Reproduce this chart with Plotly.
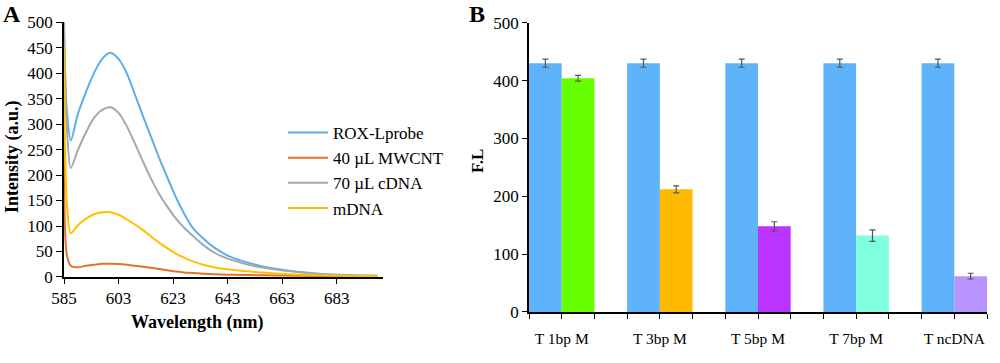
import plotly.graph_objects as go

# ---------- Panel A data ----------
wavelength = [583, 584, 585.5, 588, 591, 594, 597, 600, 603, 606, 609, 612, 615, 618, 621,
              624, 627, 630, 634, 638, 643, 648, 654, 660, 667, 675, 683, 691, 698]
rox_lprobe = [480, 330, 268, 318, 362, 400, 428, 440, 428, 400, 358, 315, 274, 232, 194,
              157, 125, 98, 76, 58, 42, 32, 23, 16.5, 11, 7, 4.5, 3, 2.5]
mwcnt_40 = [280, 45, 22, 19, 22, 24, 26, 26, 25.5, 24, 22, 20, 18, 15.5, 13,
            10.5, 9, 8, 6.5, 5.5, 4.5, 4, 3.5, 3, 2.5, 2, 2, 1.5, 1.5]
cdna_70 = [520, 300, 214, 248, 283, 312, 328, 333, 322, 296, 262, 226, 192, 162, 137,
           115, 97, 82, 63, 48, 36, 28, 20, 15, 10.5, 6.5, 4, 3, 2.5]
mdna = [450, 150, 86, 101, 114, 123, 127, 127, 122, 113, 103, 92, 79, 67, 56,
        46, 38, 31, 24, 19, 15, 12, 9.5, 7, 5, 3.5, 2.5, 2, 2]
series_names = ["ROX-Lprobe", "40 µL MWCNT", "70 µL cDNA", "mDNA"]
series_colors = ["#5DAEEA", "#E8702A", "#A5A9A9", "#FFC000"]
a_tickvals = [583, 603, 623, 643, 663, 683]
a_ticktext = ["585", "603", "623", "643", "663", "683"]

# ---------- Panel B data ----------
categories = ["T 1bp M", "T 3bp M", "T 5bp M", "T 7bp M", "T ncDNA"]
probe_vals = [430, 430, 430, 430, 430]
probe_err = [7, 7, 7, 7, 7]
target_vals = [404, 212, 148, 132, 62]
target_err = [5, 6, 8, 10, 5]
target_colors = ["#66FF00", "#FFB900", "#BB33FF", "#7FFFE0", "#B894FF"]
probe_color = "#5FB3FA"

FONT = "Liberation Serif"

fig = go.Figure()

for name, vals, col in zip(series_names, [rox_lprobe, mwcnt_40, cdna_70, mdna], series_colors):
    fig.add_trace(go.Scatter(x=wavelength, y=vals, mode="lines", name=name,
                             line=dict(color=col, width=2, shape="spline", smoothing=0.8),
                             xaxis="x", yaxis="y"))

xpos = list(range(len(categories)))
fig.add_trace(go.Bar(x=xpos, y=probe_vals, marker=dict(color=probe_color, line=dict(width=0)),
                     error_y=dict(type="data", array=probe_err, color="#555555", thickness=1.2, width=3),
                     showlegend=False, xaxis="x2", yaxis="y2"))
fig.add_trace(go.Bar(x=xpos, y=target_vals, marker=dict(color=target_colors, line=dict(width=0)),
                     error_y=dict(type="data", array=target_err, color="#555555", thickness=1.2, width=3),
                     showlegend=False, xaxis="x2", yaxis="y2"))

# tick positions for panel B: every bar width (1/3 category)
b_tickvals = []
b_ticktext = []
for i, c in enumerate(categories):
    for k, off in enumerate([-1/3, 0, 1/3]):
        b_tickvals.append(i + off)
        b_ticktext.append(c if k == 1 else "")

axis_common = dict(showgrid=False, zeroline=False, showline=True, linecolor="black", linewidth=1.5,
                   ticks="outside", tickcolor="black", tickwidth=1.2, automargin=False,
                   tickfont=dict(family=FONT, size=17, color="black"))

fig.update_layout(
    width=1000, height=363,
    margin=dict(l=0, r=0, t=0, b=0),
    paper_bgcolor="white", plot_bgcolor="white",
    barmode="group", bargap=1/3, bargroupgap=0,
    font=dict(family=FONT, size=17, color="black"),
    xaxis=dict(domain=[0.064, 0.383], range=[583, 700], tickvals=a_tickvals, ticktext=a_ticktext,
               ticklen=5, anchor="y", **axis_common),
    yaxis=dict(domain=[0.237, 0.939], range=[0, 500], dtick=50, ticklen=6, anchor="x", **axis_common),
    xaxis2=dict(domain=[0.529, 0.987], range=[-1/3, len(categories) - 1 + 1/3],
                tickvals=b_tickvals, ticktext=b_ticktext, ticklen=5, anchor="y2",
                ticklabelstandoff=7, **axis_common),
    yaxis2=dict(domain=[0.1405, 0.9375], range=[0, 500], dtick=100, ticklen=5, anchor="x2", **axis_common),
    legend=dict(x=0.283, y=0.683, xanchor="left", yanchor="top", bgcolor="rgba(0,0,0,0)",
                font=dict(family=FONT, size=17), tracegroupgap=0, itemwidth=40),
    showlegend=True,
)
fig.update_xaxes(tickfont=dict(size=15.5), selector=dict(anchor="y2"))

anns = [
    dict(text="<b>A</b>", x=12, y=14, size=24, angle=0),
    dict(text="<b>B</b>", x=477, y=14, size=24, angle=0),
    dict(text="<b>Wavelength (nm)</b>", x=197, y=322, size=18, angle=0),
    dict(text="<b>Intensity (a.u.)</b>", x=12, y=157, size=18, angle=-90),
    dict(text="<b>F.L</b>", x=478, y=161, size=17, angle=-90),
]
for a in anns:
    fig.add_annotation(text=a["text"], x=a["x"] / 1000, y=1 - a["y"] / 363, xref="paper", yref="paper",
                       xanchor="center", yanchor="middle", showarrow=False, textangle=a["angle"],
                       font=dict(family=FONT, size=a["size"], color="black"))

fig.write_html("out.html", config={"displayModeBar": False},
               post_script="document.body.style.margin='0';")
